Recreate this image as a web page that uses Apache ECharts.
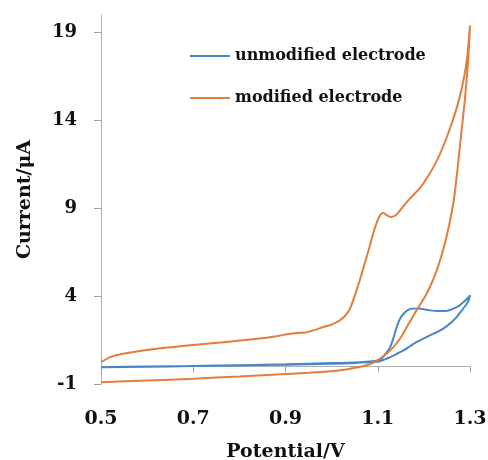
<!DOCTYPE html>
<html><head><meta charset="utf-8">
<script src="https://cdn.jsdelivr.net/npm/echarts@6/dist/echarts.min.js"></script>
<style>html,body{margin:0;padding:0;background:#fff}#c{width:488px;height:460px}</style>
</head><body><div id="c"></div>
<script>
var seriesNames = ["unmodified electrode", "modified electrode"];
var xTicks = [0.5, 0.7, 0.9, 1.1, 1.3];
var yTicks = [-1, 4, 9, 14, 19];

var unmodPotential = [0.5,0.6,0.7,0.8,0.9,1.0,1.05,1.09,1.105,1.115,1.127,1.135,1.141,1.148,1.156,1.165,1.174,1.19,1.2,1.213,1.23,1.242,1.255,1.264,1.276,1.286,1.295,1.3,
  1.297,1.293,1.282,1.271,1.257,1.242,1.227,1.213,1.2,1.184,1.17,1.156,1.14,1.127,1.115,1.105,1.09,1.05,1.0,0.9,0.8,0.7,0.6,0.5];
var unmodCurrent = [-0.05,0.0,0.03,0.07,0.12,0.19,0.23,0.3,0.4,0.65,1.1,1.7,2.24,2.7,3.0,3.2,3.29,3.3,3.25,3.19,3.15,3.15,3.2,3.29,3.45,3.66,3.88,4.05,
  3.75,3.57,3.18,2.81,2.45,2.15,1.93,1.77,1.6,1.38,1.15,0.91,0.7,0.53,0.4,0.3,0.25,0.2,0.15,0.1,0.05,0.02,-0.02,-0.05];

var modPotential = [0.5,0.6,0.7,0.8,0.9,0.95,1.0,1.03,1.05,1.07,1.09,1.105,1.12,1.134,1.15,1.163,1.184,1.206,1.228,1.249,1.264,1.272,1.28,1.289,1.296,1.3,
  1.293,1.282,1.27,1.26,1.249,1.235,1.222,1.205,1.19,1.17,1.152,1.141,1.13,1.12,1.112,1.105,1.098,1.09,1.08,1.07,1.061,1.05,1.04,1.03,1.018,1.0,0.982,0.96,0.946,0.91,0.88,0.838,0.8,0.765,0.693,0.62,0.548,0.52,0.5];
var modCurrent = [-0.9,-0.8,-0.7,-0.57,-0.43,-0.36,-0.27,-0.18,-0.08,0.02,0.2,0.44,0.75,1.1,1.65,2.24,3.19,4.14,5.47,7.37,9.3,11.0,13.0,15.2,17.4,19.4,
  17.4,15.8,14.6,13.8,13.0,12.1,11.4,10.65,10.1,9.56,9.0,8.65,8.5,8.6,8.75,8.6,8.2,7.56,6.6,5.7,4.9,4.0,3.3,2.9,2.62,2.38,2.24,2.05,1.95,1.86,1.72,1.57,1.47,1.38,1.2,1.0,0.72,0.53,0.24];

function pairs(xs, ys){ return xs.map(function(x,i){ return [x, ys[i]]; }); }

var font = "DejaVu Serif";
var chart = echarts.init(document.getElementById('c'), null, {renderer:'canvas'});
chart.setOption({
  animation: false,
  backgroundColor: '#ffffff',
  grid: {left: 101, right: 18, top: 15, bottom: 76, containLabel: false, outerBoundsMode: 'none'},
  legend: {
    orient: 'vertical', left: 185, top: 41, itemWidth: 40, itemHeight: 2, itemGap: 22, icon: 'rect',
    textStyle: {fontFamily: font, fontWeight: 'bold', fontSize: 16, color: '#111', lineHeight: 20},
    data: seriesNames
  },
  xAxis: {
    type: 'value', min: xTicks[0], max: xTicks[xTicks.length - 1], interval: 0.2,
    name: 'Potential/V', nameLocation: 'middle', nameGap: 59,
    nameTextStyle: {fontFamily: font, fontWeight: 'bold', fontSize: 19, color: '#111'},
    axisLine: {lineStyle: {color: '#b0b0b0', width: 1}},
    axisTick: {show: true, length: 6, lineStyle: {color: '#a0a0a0', width: 1}},
    axisLabel: {fontFamily: font, fontWeight: 'bold', fontSize: 19, color: '#111', margin: 26,
      formatter: function(v){ return Number(v).toFixed(1); }},
    splitLine: {show: false}
  },
  yAxis: {
    type: 'value', min: yTicks[0], max: 20, interval: 5,
    name: 'Current/μA', nameLocation: 'middle', nameGap: 66, nameRotate: 90,
    nameTextStyle: {fontFamily: font, fontWeight: 'bold', fontSize: 19, color: '#111'},
    axisLine: {show: true, lineStyle: {color: '#b0b0b0', width: 1}},
    axisTick: {show: true, length: 7, lineStyle: {color: '#a0a0a0', width: 1}},
    axisLabel: {fontFamily: font, fontWeight: 'bold', fontSize: 18, color: '#111', margin: 24,
      showMaxLabel: false,
      formatter: function(v){ return yTicks.indexOf(Math.round(v)) >= 0 ? String(Math.round(v)) : ''; }},
    splitLine: {show: false}
  },
  series: [
    {name: seriesNames[0], type: 'line', data: pairs(unmodPotential, unmodCurrent), symbol: 'none', smooth: 0.2,
      lineStyle: {color: '#4a86c6', width: 2}, itemStyle: {color: '#4a86c6'}, clip: false},
    {name: seriesNames[1], type: 'line', data: pairs(modPotential, modCurrent), symbol: 'none', smooth: 0.2,
      lineStyle: {color: '#e37d3a', width: 2}, itemStyle: {color: '#e37d3a'}, clip: false}
  ]
});
</script></body></html>
